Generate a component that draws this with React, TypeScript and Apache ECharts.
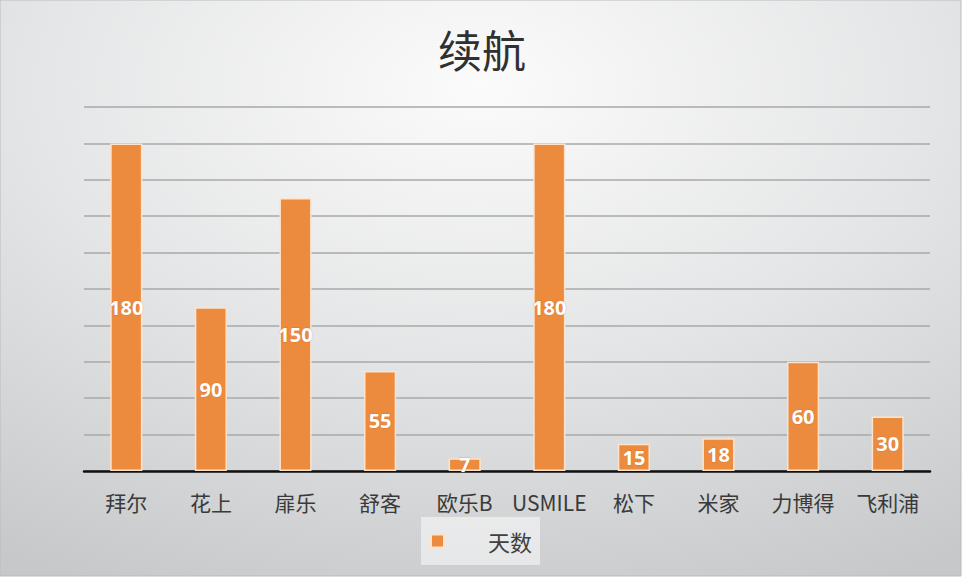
import React, { useEffect, useRef } from "react";
import * as echarts from "echarts";

const categories = ["拜尔", "花上", "扉乐", "舒客", "欧乐B", "USMILE", "松下", "米家", "力博得", "飞利浦"];
const seriesName = "天数";
const values = [180, 90, 150, 55, 7, 180, 15, 18, 60, 30];
const titleText = "续航";

export default function App() {
  const ref = useRef<HTMLDivElement>(null);
  useEffect(() => {
    if (!ref.current) return;
    const chart = echarts.init(ref.current, undefined, { renderer: "svg" });
    chart.setOption({
      animation: false,
      backgroundColor: "#ffffff",
      graphic: [
        {
          type: "rect",
          z: -10,
          shape: { x: 0, y: 0, width: 961, height: 576 },
          style: {
            fill: {
              type: "radial",
              x: 0.5,
              y: 0.15,
              r: 0.95,
              colorStops: [
                { offset: 0, color: "#fbfbfb" },
                { offset: 0.5, color: "#e4e5e6" },
                { offset: 1, color: "#c6c8ca" },
              ],
            },
            stroke: "#b9bbbd",
            lineWidth: 1,
          },
          silent: true,
        },
      ],
      title: {
        text: titleText,
        left: "center",
        top: 22,
        textStyle: {
          fontFamily: "Noto Sans CJK SC",
          fontSize: 44,
          fontWeight: "normal",
          color: "#303030",
        },
      },
      legend: {
        data: [seriesName],
        left: 421,
        top: 517,
        padding: [13, 8, 13, 9],
        backgroundColor: "rgba(255,255,255,0.5)",
        itemWidth: 13,
        itemHeight: 13,
        icon: "rect",
        textStyle: {
          fontFamily: "Noto Sans CJK SC",
          fontSize: 22,
          color: "#404040",
          padding: [0, 0, 0, 39],
        },
      },
      grid: { left: 84, right: 34, top: 107, bottom: 109, containLabel: false },
      xAxis: {
        type: "category",
        data: categories,
        axisLine: { lineStyle: { color: "#111111", width: 2.5 } },
        axisTick: { show: false },
        axisLabel: {
          margin: 20,
          fontFamily: "'Noto Sans CJK SC', 'Open Sans'",
          fontSize: 21,
          color: "#3a3a3a",
          interval: 0,
        },
      },
      yAxis: {
        type: "value",
        min: 0,
        max: 200,
        interval: 20,
        axisLabel: { show: false },
        axisLine: { show: false },
        axisTick: { show: false },
        splitLine: { lineStyle: { color: "#a8a9aa", width: 1.5 } },
      },
      series: [
        {
          name: seriesName,
          type: "bar",
          data: values,
          barWidth: "38%",
          itemStyle: {
            color: "#ec8a3e",
            borderColor: "#fbe3cc",
            borderWidth: 1.5,
          },
          label: {
            show: true,
            position: "inside",
            color: "#ffffff",
            fontFamily: "'Open Sans'",
            fontWeight: "bold",
            fontSize: 20,
            textBorderColor: "rgba(180,90,30,0.35)",
            textBorderWidth: 1,
          },
        },
      ],
    });
    return () => chart.dispose();
  }, []);
  return <div ref={ref} style={{ position: "fixed", left: 0, top: 0, width: 964, height: 580 }} />;
}
